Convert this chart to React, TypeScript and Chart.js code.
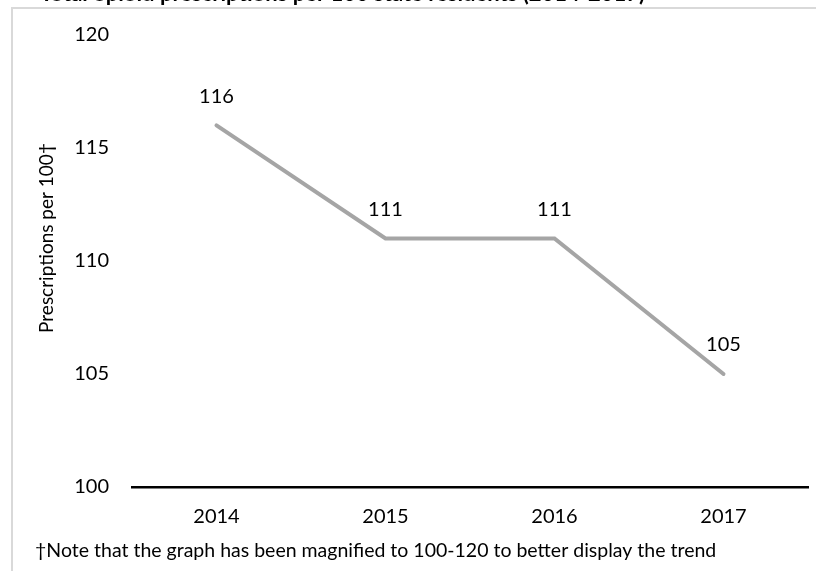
import React, { useEffect, useRef } from "react";
import { Chart, registerables } from "chart.js";

Chart.register(...registerables);

const categories = ["2014", "2015", "2016", "2017"];
const values = [116, 111, 111, 105];
const yTicks = [100, 105, 110, 115, 120];
const chartTitle = "Total opioid prescriptions per 100 state residents (2014-2017)";
const yTitle = "Prescriptions per 100\u2020";
const note = "\u2020Note that the graph has been magnified to 100-120 to better display the trend";

const FONT = "Lato, 'Open Sans', sans-serif";

const decorPlugin = {
  id: "decor",
  beforeDraw(chart: any) {
    const ctx = chart.ctx;
    ctx.save();
    ctx.fillStyle = "#ffffff";
    ctx.fillRect(0, 0, chart.width, chart.height);
    ctx.strokeStyle = "#d9d9d9";
    ctx.lineWidth = 2;
    ctx.beginPath();
    ctx.moveTo(12, chart.height + 5);
    ctx.lineTo(12, 8);
    ctx.lineTo(chart.width + 5, 8);
    ctx.stroke();
    // cut-off title
    ctx.fillStyle = "#000000";
    ctx.font = "bold 22px " + FONT;
    ctx.textBaseline = "alphabetic";
    ctx.textAlign = "left";
    ctx.fillText(chartTitle, 40, 1);
    ctx.restore();
  },
  afterDraw(chart: any) {
    const ctx = chart.ctx;
    ctx.save();
    ctx.fillStyle = "#000000";
    // y title
    ctx.font = "19px " + FONT;
    ctx.textAlign = "center";
    ctx.textBaseline = "middle";
    ctx.translate(47, 238);
    ctx.rotate(-Math.PI / 2);
    ctx.fillText(yTitle, 0, 0);
    ctx.restore();
    ctx.save();
    ctx.fillStyle = "#000000";
    ctx.font = "19.5px " + FONT;
    ctx.textAlign = "left";
    ctx.textBaseline = "middle";
    ctx.fillText(note, 35, 551);
    // data labels
    const meta = chart.getDatasetMeta(0);
    ctx.font = "20px " + FONT;
    ctx.textAlign = "center";
    meta.data.forEach((pt: any, i: number) => {
      ctx.fillText(String(values[i]), pt.x, pt.y - 29);
    });
    ctx.restore();
  },
};

export default function App() {
  const ref = useRef<HTMLCanvasElement>(null);
  useEffect(() => {
    if (!ref.current) return;
    const chart = new Chart(ref.current, {
      type: "line",
      data: {
        labels: categories,
        datasets: [
          {
            data: values,
            borderColor: "#a5a5a5",
            borderWidth: 4,
            pointRadius: 0,
            pointHoverRadius: 0,
            tension: 0,
            fill: false,
            borderCapStyle: "round",
          },
        ],
      },
      options: {
        animation: false,
        responsive: false,
        devicePixelRatio: 1,
        layout: { padding: { top: 33, right: 8, left: 0, bottom: 0 } },
        plugins: { legend: { display: false }, tooltip: { enabled: false }, title: { display: false } },
        scales: {
          x: {
            offset: true,
            grid: { display: false, drawTicks: false },
            border: { display: true, color: "#000000", width: 2.5 },
            ticks: { color: "#000000", font: { family: FONT, size: 20 }, padding: 18 },
            afterFit: (s: any) => {
              s.height = 84;
            },
          },
          y: {
            min: 100,
            max: 120,
            afterBuildTicks: (s: any) => {
              s.ticks = yTicks.map((v) => ({ value: v }));
            },
            grid: { display: false, drawTicks: false },
            border: { display: false },
            ticks: { color: "#000000", font: { family: FONT, size: 20 }, padding: 23 },
            afterFit: (s: any) => {
              s.width = 132;
            },
          },
        },
      },
      plugins: [decorPlugin],
    } as any);
    return () => chart.destroy();
  }, []);
  return (
    <div style={{ position: "fixed", left: 0, top: 0, width: 816, height: 571, background: "#fff" }}>
      <canvas ref={ref} width={816} height={571} style={{ display: "block" }} />
    </div>
  );
}
